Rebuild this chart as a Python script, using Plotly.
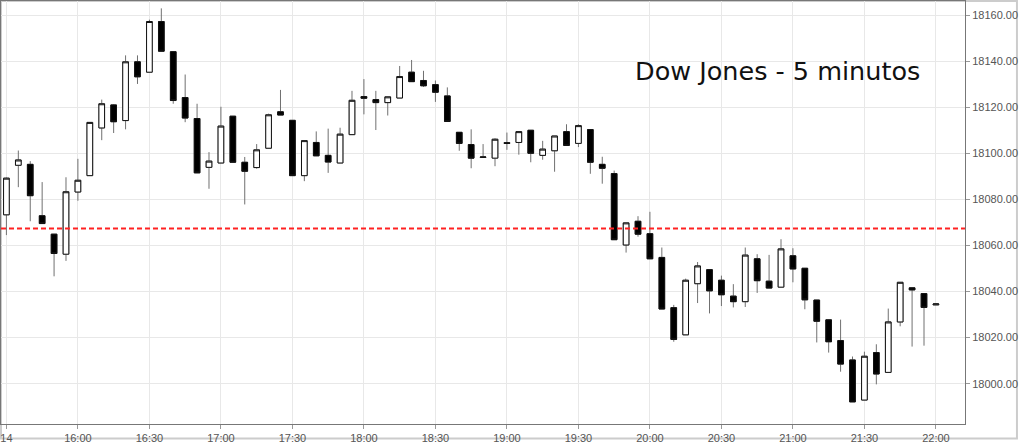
import plotly.graph_objects as go
import pandas as pd

times = pd.date_range("2015-05-14 15:30", periods=79, freq="5min")

opens = [18073.3, 18094.8, 18095.2, 18072.9, 18064.9, 18056.2, 18083.2, 18090.3, 18111.0, 18121.0,
         18114.2, 18139.7, 18135.2, 18157.2, 18144.1, 18124.2, 18115.1, 18093.9, 18095.8, 18116.1,
         18096.1, 18093.8, 18102.2, 18118.0, 18114.3, 18090.3, 18104.7, 18099.1, 18095.8, 18108.1,
         18124.6, 18123.3, 18122.0, 18124.0, 18135.2, 18131.6, 18129.8, 18124.9, 18109.1, 18103.8,
         18098.2, 18097.9, 18104.6, 18104.7, 18110.0, 18099.1, 18101.1, 18109.4, 18104.3, 18110.3,
         18095.2, 18091.2, 18060.2, 18070.5, 18065.1, 18054.8, 18033.0, 18021.2, 18043.4, 18049.5,
         18044.9, 18038.0, 18035.6, 18054.2, 18044.5, 18041.9, 18055.5, 18050.1, 18036.3, 18027.7,
         18018.7, 18010.3, 17992.9, 18013.5, 18004.9, 18026.8, 18041.6, 18039.1, 18034.2]
highs = [18089.5, 18101.2, 18096.6, 18087.5, 18064.9, 18089.6, 18097.6, 18113.4, 18123.3, 18121.3,
         18142.5, 18142.5, 18158.0, 18162.9, 18144.3, 18134.2, 18121.5, 18100.5, 18120.2, 18116.1,
         18098.4, 18104.0, 18117.2, 18127.5, 18114.3, 18105.5, 18109.5, 18110.7, 18111.1, 18127.1,
         18132.2, 18127.1, 18124.5, 18137.9, 18140.5, 18135.8, 18131.6, 18128.6, 18109.1, 18110.4,
         18104.0, 18106.5, 18109.0, 18109.4, 18110.0, 18105.4, 18107.5, 18112.6, 18112.6, 18110.3,
         18098.5, 18092.5, 18069.8, 18072.7, 18074.6, 18059.1, 18034.2, 18045.6, 18052.8, 18049.5,
         18046.9, 18043.2, 18059.1, 18056.2, 18055.9, 18062.7, 18058.8, 18050.1, 18036.3, 18027.7,
         18027.8, 18011.8, 18013.9, 18017.1, 18032.6, 18044.0, 18041.6, 18039.1, 18034.6]
lows = [18064.5, 18085.3, 18070.5, 18069.5, 18046.6, 18053.3, 18079.4, 18090.3, 18105.7, 18108.8,
        18110.4, 18130.1, 18135.2, 18144.3, 18121.5, 18113.5, 18091.5, 18084.6, 18095.8, 18096.1,
        18077.8, 18093.3, 18102.2, 18116.6, 18090.3, 18087.9, 18098.9, 18091.5, 18095.8, 18108.1,
        18116.9, 18110.1, 18116.4, 18124.0, 18131.1, 18128.8, 18122.3, 18113.8, 18101.1, 18093.5,
        18098.0, 18094.4, 18101.5, 18099.4, 18096.1, 18097.2, 18092.0, 18103.4, 18102.7, 18091.1,
        18086.8, 18062.5, 18056.9, 18063.8, 18054.2, 18032.4, 18018.2, 18021.2, 18035.0, 18030.5,
        18033.7, 18033.1, 18033.3, 18039.4, 18041.5, 18041.9, 18044.0, 18032.3, 18017.9, 18013.5,
        18005.2, 17992.1, 17992.9, 17999.7, 18004.9, 18024.9, 18016.1, 18016.5, 18034.2]
closes = [18089.2, 18097.1, 18081.6, 18069.5, 18056.5, 18083.3, 18088.3, 18113.4, 18121.5, 18113.7,
          18139.7, 18133.2, 18157.2, 18144.3, 18122.9, 18115.3, 18091.5, 18096.6, 18111.8, 18096.1,
          18092.2, 18101.5, 18116.7, 18116.6, 18090.3, 18105.5, 18098.9, 18096.2, 18108.3, 18123.0,
          18123.9, 18122.0, 18124.5, 18133.3, 18131.1, 18129.3, 18126.5, 18113.8, 18104.3, 18097.9,
          18098.4, 18106.1, 18104.3, 18109.4, 18100.0, 18101.8, 18107.5, 18103.4, 18112.0, 18096.1,
          18093.5, 18062.5, 18069.8, 18064.9, 18054.2, 18032.4, 18019.2, 18044.9, 18051.1, 18040.3,
          18038.6, 18035.6, 18055.8, 18044.7, 18041.5, 18058.5, 18049.8, 18036.4, 18027.1, 18018.2,
          18008.5, 17992.1, 18011.9, 18004.2, 18026.8, 18044.0, 18040.7, 18033.1, 18034.6]

reference_level = 18067.4
title_text = "Dow Jones - 5 minutos"

tick_times = pd.date_range("2015-05-14 15:30", "2015-05-14 22:00", freq="30min")
tick_labels = ["14"] + [t.strftime("%H:%M") for t in tick_times[1:]]

body_top = [max(o, c) for o, c in zip(opens, closes)]
body_bot = [min(o, c) for o, c in zip(opens, closes)]

fig = go.Figure()
# wicks (gray)
fig.add_trace(go.Candlestick(
    x=times, open=opens, high=highs, low=lows, close=closes,
    increasing=dict(line=dict(color="#707070", width=1), fillcolor="white"),
    decreasing=dict(line=dict(color="#707070", width=1), fillcolor="black"),
    whiskerwidth=0, hoverinfo="skip", showlegend=False))
# bodies (black outline)
fig.add_trace(go.Candlestick(
    x=times, open=opens, high=body_top, low=body_bot, close=closes,
    increasing=dict(line=dict(color="#111111", width=1), fillcolor="white"),
    decreasing=dict(line=dict(color="#111111", width=1), fillcolor="black"),
    whiskerwidth=0, hoverinfo="skip", showlegend=False))

fig.add_shape(type="line", xref="paper", x0=0, x1=1, yref="y", y0=reference_level, y1=reference_level,
              line=dict(color="#ff2222", width=2, dash="5px,3px"))
# outer border
fig.add_shape(type="rect", xref="paper", yref="paper", x0=0, x1=1.0539, y0=-0.034, y1=1,
              line=dict(color="#cccccc", width=2), layer="below")

fig.add_annotation(text=title_text, xref="paper", yref="paper", x=0.806, y=0.834,
                   xanchor="center", yanchor="middle", showarrow=False,
                   font=dict(family="DejaVu Sans", size=25.5, color="#111111"))

fig.update_layout(
    width=1024, height=444,
    margin=dict(l=0, r=59, t=0, b=16),
    paper_bgcolor="white", plot_bgcolor="white",
    boxgap=0.32,
    hovermode=False,
    font=dict(family="Liberation Sans, Arial", size=11, color="#555555"),
)
fig.update_xaxes(
    rangeslider_visible=False,
    range=["2015-05-14 15:27:44", "2015-05-14 22:12:12"],
    tickvals=list(tick_times), ticktext=tick_labels,
    showgrid=True, gridcolor="#e8e8e8", gridwidth=1,
    showline=True, linecolor="#777777", linewidth=1, mirror=True,
    ticks="outside", ticklen=4, tickcolor="#999999", tickangle=0,
    zeroline=False,
)
fig.update_yaxes(
    side="right",
    range=[17982.5, 18166.1],
    tick0=18000, dtick=20, tickformat=".2f",
    showgrid=True, gridcolor="#e8e8e8", gridwidth=1,
    showline=True, linecolor="#777777", linewidth=1, mirror=True,
    ticks="outside", ticklen=4, tickcolor="#999999",
    zeroline=False,
)

fig.write_html("out.html")
